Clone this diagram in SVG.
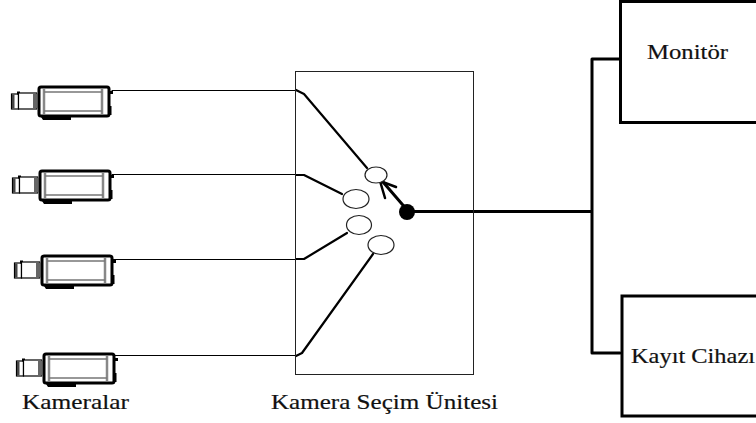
<svg xmlns="http://www.w3.org/2000/svg" width="756" height="423" viewBox="0 0 756 423">
<style>
text{font-family:"Liberation Serif","Times New Roman",serif;font-size:22px;fill:#111;stroke:#111;stroke-width:.2}
.w{fill:none;stroke:#000;stroke-linecap:round;stroke-linejoin:round}
.cam{fill:#000;stroke:none}
.box{fill:#fff;stroke:#000;stroke-width:3}
.sw{fill:#fff;stroke:#222;stroke-width:1.2}
</style>
<defs>
<g id="camera">
<rect x="-26.500" y="8" width="7" height="15" fill="#fff" stroke="#000" stroke-width="1.200"/>
<rect x="-26" y="8.500" width="2.500" height="14" fill="#444"/>
<rect x="-21" y="5.500" width="3" height="3" fill="#000"/>
<rect x="-19.500" y="7" width="18" height="16" fill="#fff" stroke="#000" stroke-width="1.200"/>
<rect x="-5" y="7.500" width="4.500" height="15" fill="#666"/>
<rect x="1" y="1" width="70" height="29" rx="2" fill="#fff" stroke="#000" stroke-width="3"/>
<path d="M6 3V28M64 3V28" stroke="#888" stroke-width="2.500" fill="none"/>
<path d="M6 6H64M6 25H64" stroke="#777" stroke-width="1.500" fill="none"/>
<path d="M3 31H33V34H5Z" class="cam"/>
<path d="M71 5H75V8H71ZM71 20H73.500V29H71Z" class="cam"/>
</g>
</defs>
<g id="connectors">
<path class="w" stroke-width="1" d="M112 90.500H296M112 174.500H296M113 259.500H296M115 355.500H296"/>
<path class="w" stroke-width="2.200" d="M296 90L304 94L367 168M296 175H304L342 194M296 259H304L347 233M296 356L302 353L373 254"/>
<path class="w" stroke-width="3" d="M408 211L383 182"/>
<path class="w" stroke-width="2.500" d="M380 181L385 198M380 181L396 187"/>
<path class="w" stroke-width="3" d="M408 211.500H592M592 59V353M592 59H620M592 353H620" stroke-linecap="butt"/>
</g>
<g id="selector">
<rect x="295.500" y="71.500" width="178" height="303" fill="none" stroke="#222" stroke-width="1"/>
<ellipse class="sw" cx="376" cy="175" rx="11" ry="8"/>
<ellipse class="sw" cx="356" cy="199" rx="13" ry="9.500"/>
<ellipse class="sw" cx="359" cy="225" rx="12.500" ry="9.500"/>
<ellipse class="sw" cx="381" cy="245" rx="13" ry="9.500"/>
<circle cx="407" cy="212" r="8" fill="#000"/>
<text x="271" y="409" textLength="227" lengthAdjust="spacingAndGlyphs">Kamera Seçim Ünitesi</text>
</g>
<g id="cam1"><use href="#camera" x="38" y="86"/></g>
<g id="cam2"><use href="#camera" x="39" y="170"/></g>
<g id="cam3"><use href="#camera" x="41" y="255"/></g>
<g id="cam4"><use href="#camera" x="43" y="353"/></g>
<g id="label-kameralar"><text x="22" y="409" textLength="107" lengthAdjust="spacingAndGlyphs">Kameralar</text></g>
<g id="monitor"><path class="box" d="M756 1.500H620.500V122.500H756"/><text x="647" y="59" textLength="81" lengthAdjust="spacingAndGlyphs">Monitör</text></g>
<g id="kayit"><path class="box" d="M756 296H622V416H756"/><text x="631" y="363" textLength="124" lengthAdjust="spacingAndGlyphs">Kayıt Cihazı</text></g>
</svg>
